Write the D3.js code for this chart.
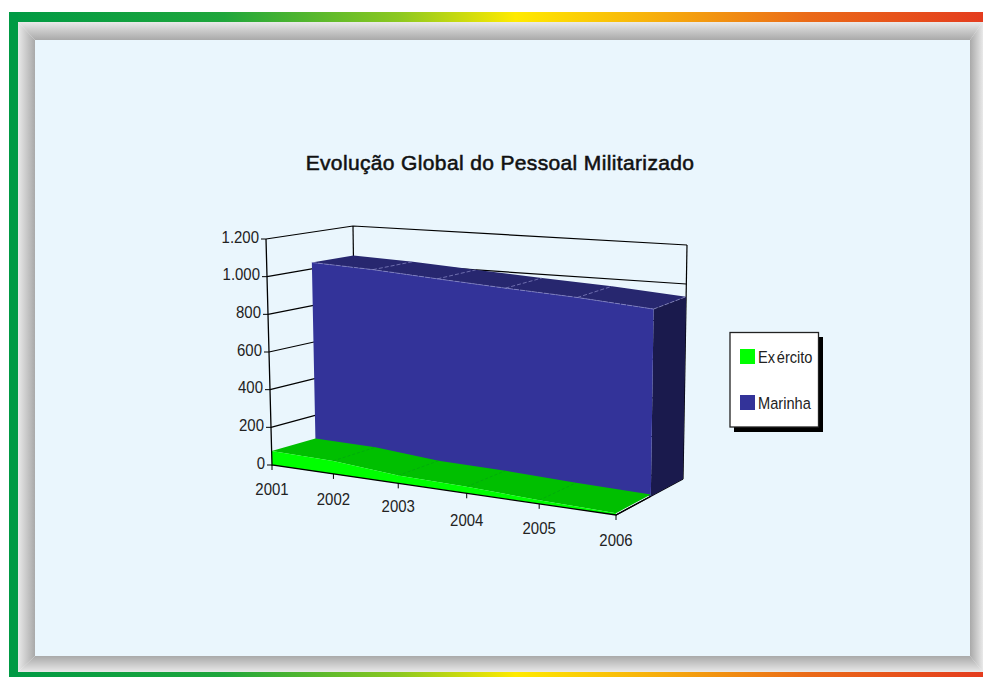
<!DOCTYPE html>
<html lang="pt">
<head>
<meta charset="utf-8">
<title>Evolução Global do Pessoal Militarizado</title>
<script src="https://cdn.jsdelivr.net/npm/d3@7"></script>
<style>
  html, body { margin: 0; padding: 0; background: #fff; }
  svg { display: block; }
  text { font-family: "Liberation Sans", Arial, sans-serif; }
</style>
</head>
<body>
<svg id="chart" width="983" height="677"></svg>
<script>
const years = ["2001", "2002", "2003", "2004", "2005", "2006"];
const exercito = [74, 68, 40, 33, 18, 9];
const marinha = [1035, 1022, 1000, 980, 962, 935];
const yTicks = [0, 200, 400, 600, 800, 1000, 1200];
const seriesNames = ["Exército", "Marinha"];

const svg = d3.select("#chart");
const formatTick = v => d3.format(",")(v).replace(",", ".");

// Page frame: coloured bars and a bevelled grey mat around the pale panel
const defs = svg.append("defs");
const rainbow = defs.append("linearGradient").attr("id", "rainbow");
[[0, "#009a44"], [0.22, "#1fa63c"], [0.4, "#8cc820"], [0.52, "#ffea00"],
 [0.66, "#f7b00c"], [0.82, "#ea6a18"], [1, "#e43c1e"]].forEach(([o, c]) =>
  rainbow.append("stop").attr("offset", o).attr("stop-color", c));

function bevel(id, x1, y1, x2, y2) {
  const g = defs.append("linearGradient").attr("id", id)
    .attr("x1", x1).attr("y1", y1).attr("x2", x2).attr("y2", y2);
  g.append("stop").attr("offset", 0).attr("stop-color", "#e9e9e9");
  g.append("stop").attr("offset", 1).attr("stop-color", "#a9a9a9");
}
bevel("bevelTop", 0, 0, 0, 1);
bevel("bevelBottom", 0, 1, 0, 0);
bevel("bevelLeft", 0, 0, 1, 0);
bevel("bevelRight", 1, 0, 0, 0);

const outer = { l: 18, t: 22, r: 983, b: 672 };
const inner = { l: 35, t: 40, r: 970, b: 656 };
const path = d3.line();

svg.append("rect").attr("x", 0).attr("y", 0).attr("width", 983).attr("height", 677).attr("fill", "#fff");
svg.append("rect").attr("x", 9).attr("y", 12).attr("width", 974).attr("height", 10).attr("fill", "url(#rainbow)");
svg.append("rect").attr("x", 9).attr("y", 672).attr("width", 974).attr("height", 5).attr("fill", "url(#rainbow)");
svg.append("rect").attr("x", 9).attr("y", 12).attr("width", 9).attr("height", 665).attr("fill", "#009a44");

[
  ["bevelTop", [[outer.l, outer.t], [outer.r, outer.t], [inner.r, inner.t], [inner.l, inner.t]]],
  ["bevelBottom", [[outer.l, outer.b], [outer.r, outer.b], [inner.r, inner.b], [inner.l, inner.b]]],
  ["bevelLeft", [[outer.l, outer.t], [inner.l, inner.t], [inner.l, inner.b], [outer.l, outer.b]]],
  ["bevelRight", [[outer.r, outer.t], [inner.r, inner.t], [inner.r, inner.b], [outer.r, outer.b]]]
].forEach(([id, pts]) => svg.append("path").attr("d", path(pts) + "Z").attr("fill", `url(#${id})`));

svg.append("rect").attr("x", inner.l).attr("y", inner.t)
  .attr("width", inner.r - inner.l).attr("height", inner.b - inner.t).attr("fill", "#eaf6fd");

// 3D box projection: blends the eight projected corners of the plot cube
const corners = {
  flb: [272, 465], flt: [266, 239], frb: [616, 515], frt: [619, 268],
  blb: [356, 440], blt: [353, 226], brb: [683, 479], brt: [687, 245]
};
const xIndex = d3.scaleLinear().domain([0, years.length - 1]).range([0, 1]);
const yScale = d3.scaleLinear().domain([0, 1200]).range([0, 1]);
const foreshorten = 1.15;
const along = i => { const u = xIndex(i); return u / (u + foreshorten * (1 - u)); };

function project(i, value, depth) {
  const u = along(i), v = yScale(value), w = depth;
  const mix = d3.interpolateNumber;
  return [0, 1].map(k => {
    const f = mix(mix(corners.flb[k], corners.frb[k])(u), mix(corners.flt[k], corners.frt[k])(u))(v);
    const b = mix(mix(corners.blb[k], corners.brb[k])(u), mix(corners.blt[k], corners.brt[k])(u))(v);
    return mix(f, b)(w);
  });
}

const last = years.length - 1;
const idx = d3.range(years.length);
const chart = svg.append("g");
const AXIS = "#000";

// Wall gridlines run along the left wall and across the back wall
yTicks.forEach(t => {
  chart.append("path").attr("fill", "none").attr("stroke", AXIS).attr("stroke-width", 1.2)
    .attr("d", path([project(0, t, 0), project(0, t, 1), project(last, t, 1)]));
});
chart.append("path").attr("fill", "none").attr("stroke", AXIS).attr("stroke-width", 1.2)
  .attr("d", path([project(0, 0, 1), project(0, 1200, 1)]));
chart.append("path").attr("fill", "none").attr("stroke", AXIS).attr("stroke-width", 1.2)
  .attr("d", path([project(last, 0, 1), project(last, 1200, 1)]));
chart.append("path").attr("fill", "none").attr("stroke", AXIS).attr("stroke-width", 1.2)
  .attr("d", path([project(last, 0, 0), project(last, 0, 1)]));

// Marinha ribbon, in the back half of the cube
const mid = 0.52;
const ribbonTop = (vals, d0, d1) =>
  path(idx.map(i => project(i, vals[i], d0)).concat(idx.slice().reverse().map(i => project(i, vals[i], d1)))) + "Z";
const ribbonFront = (vals, d) =>
  path(idx.map(i => project(i, vals[i], d)).concat(idx.slice().reverse().map(i => project(i, 0, d)))) + "Z";

chart.append("path").attr("d", ribbonTop(marinha, mid, 1)).attr("fill", "#27276f");
chart.append("path").attr("fill", "#1a1a4d").attr("d", path([
  project(last, marinha[last], mid), project(last, marinha[last], 1),
  project(last, 0, 1), project(last, 0, mid)]) + "Z");
chart.append("path").attr("d", ribbonFront(marinha, mid)).attr("fill", "#333399");

// Pale edges on the Marinha top face
chart.append("path").attr("fill", "none").attr("stroke", "#8c8cc8").attr("stroke-width", 0.7)
  .attr("stroke-dasharray", "5 1").attr("d", path(idx.map(i => project(i, marinha[i], mid))));
idx.slice(1).forEach(i => {
  chart.append("path").attr("fill", "none").attr("stroke", "#8c8cc8").attr("stroke-width", 0.7)
    .attr("stroke-dasharray", "4 2")
    .attr("d", path([project(i, marinha[i], mid), project(i, marinha[i], 1)]));
});

// Exército ribbon, in the front half of the cube
chart.append("path").attr("d", ribbonTop(exercito, 0, mid)).attr("fill", "#00bf00");
idx.slice(1, last).forEach(i => {
  chart.append("path").attr("fill", "none").attr("stroke", "#00a010").attr("stroke-width", 0.6)
    .attr("stroke-dasharray", "3 2")
    .attr("d", path([project(i, exercito[i], 0), project(i, exercito[i], mid)]));
});
chart.append("path").attr("d", ribbonFront(exercito, 0)).attr("fill", "#00ff00");

// Axes at the front of the cube
chart.append("path").attr("fill", "none").attr("stroke", AXIS).attr("stroke-width", 1.3)
  .attr("d", path([project(0, 1200, 0), project(0, 0, 0), project(last, 0, 0), project(last, 0, mid)]));

// Narrowed label type, placed through a horizontal squeeze
const narrowText = (parent, x, y, anchor, squeeze) => parent.append("text")
  .attr("transform", `translate(${x},${y}) scale(${squeeze},1)`)
  .attr("dy", "0.36em").attr("text-anchor", anchor)
  .attr("font-size", 17).attr("fill", "#222");
const yearLabelGap = [24, 25, 23, 27, 24, 25];

yTicks.forEach(t => {
  const [x, y] = project(0, t, 0);
  chart.append("path").attr("stroke", AXIS).attr("stroke-width", 1).attr("d", path([[x - 5, y], [x, y]]));
  narrowText(chart, x - 7, y - 2.5, "end", 0.88).text(formatTick(t));
});
years.forEach((yr, i) => {
  const [x, y] = project(i, 0, 0);
  chart.append("path").attr("stroke", AXIS).attr("stroke-width", 1).attr("d", path([[x, y], [x, y + 5]]));
  narrowText(chart, x, y + yearLabelGap[i], "middle", 0.88).text(yr);
});

// Title
svg.append("text").attr("x", 500).attr("y", 170).attr("text-anchor", "middle")
  .attr("font-size", 21).attr("fill", "#111").attr("stroke", "#111").attr("stroke-width", 0.55)
  .attr("letter-spacing", "0.36")
  .text("Evolução Global do Pessoal Militarizado");

// Legend
const legend = svg.append("g");
legend.append("rect").attr("x", 734).attr("y", 337).attr("width", 89).attr("height", 95).attr("fill", "#000");
legend.append("rect").attr("x", 730).attr("y", 332.5).attr("width", 88.5).attr("height", 94.5)
  .attr("fill", "#fff").attr("stroke", "#222").attr("stroke-width", 1.3);
const swatches = ["#00ff00", "#333399"];
const legendY = [349, 395];
seriesNames.forEach((name, i) => {
  legend.append("rect").attr("x", 740).attr("y", legendY[i]).attr("width", 15).attr("height", 15).attr("fill", swatches[i]);
  const label = narrowText(legend, 758, legendY[i] + 7.5, "start", 0.86);
  if (i === 0) {
    label.append("tspan").text(name.slice(0, 2));
    label.append("tspan").attr("dx", 2).text(name.slice(2));
  } else {
    label.text(name);
  }
});
</script>
</body>
</html>
